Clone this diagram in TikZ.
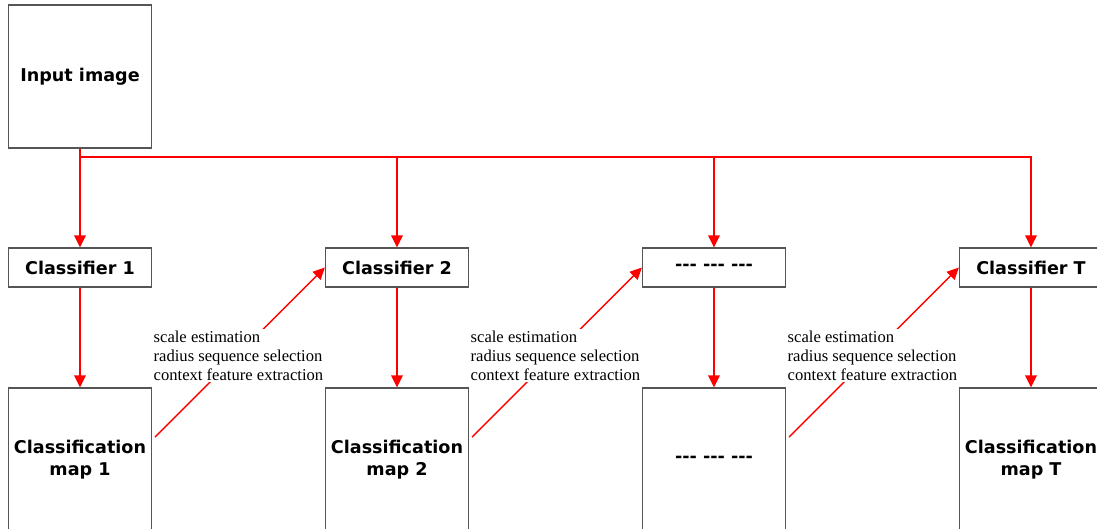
\documentclass[tikz,border=0pt]{standalone}
\usepackage{fontspec}
\setmainfont{Liberation Serif}
\newfontfamily\boxfont{DejaVu Sans}
\usetikzlibrary{arrows.meta}
\definecolor{edge}{HTML}{555555}
\definecolor{flow}{HTML}{FF0000}
\tikzset{
  box/.style={draw=edge, line width=0.8pt, fill=white, align=center,
    font=\boxfont\bfseries\fontsize{12.5}{15.6}\selectfont,
    minimum width=3.575cm, inner sep=0pt},
  stage/.style={box, minimum height=0.975cm},
  mapbox/.style={box, minimum height=3.575cm},
  feed/.style={draw=flow, line width=1.45pt, -{Triangle[length=8.5pt,width=8pt]}},
  hop/.style={draw=flow, line width=1pt, -{Triangle[length=8.5pt,width=8pt]}},
  steps/.style={fill=white, anchor=north west, align=left, inner sep=1pt,
    font=\fontsize{11.8}{13.5}\selectfont}
}
\begin{document}
\begin{tikzpicture}[x=0.025cm, y=-0.025cm]
  \clip (0,0) rectangle (1097,528);

  \node[mapbox] (input) at (80,76.5) {Input image};

  \node[stage] (cls1) at (80,267.5) {Classifier 1};
  \node[stage] (cls2) at (397,267.5) {Classifier 2};
  \node[stage] (cls3) at (714,267.5) {--- --- ---};
  \node[stage] (clsT) at (1031,267.5) {Classifier T};

  \node[mapbox] (map1) at (80,459.5) {Classification\\map 1};
  \node[mapbox] (map2) at (397,459.5) {Classification\\map 2};
  \node[mapbox] (map3) at (714,459.5) {--- --- ---};
  \node[mapbox] (mapT) at (1031,459.5) {Classification\\map T};

  % input fans out to every classifier
  \coordinate (split) at (80,157);
  \draw[flow, line width=1.45pt] (input.south) -- (split);
  \draw[feed] (split) -- (cls1.north);
  \draw[feed] (split) -| (cls2.north);
  \draw[feed] (split) -| (cls3.north);
  \draw[feed] (split) -| (clsT.north);

  \draw[feed] (cls1) -- (map1);
  \draw[feed] (cls2) -- (map2);
  \draw[feed] (cls3) -- (map3);
  \draw[feed] (clsT) -- (mapT);

  % map of one stage feeds the next classifier
  \coordinate (out1) at (155,437);
  \coordinate (out2) at (472,437);
  \coordinate (out3) at (789,437);
  \draw[hop] (out1) -- (cls2.west);
  \draw[hop] (out2) -- (cls3.west);
  \draw[hop] (out3) -- (clsT.west);

  \node[steps] (note1) at (152,329) {scale estimation\\radius sequence selection\\context feature extraction};
  \node[steps] (note2) at (469,329) {scale estimation\\radius sequence selection\\context feature extraction};
  \node[steps] (note3) at (786,329) {scale estimation\\radius sequence selection\\context feature extraction};
\end{tikzpicture}
\end{document}
